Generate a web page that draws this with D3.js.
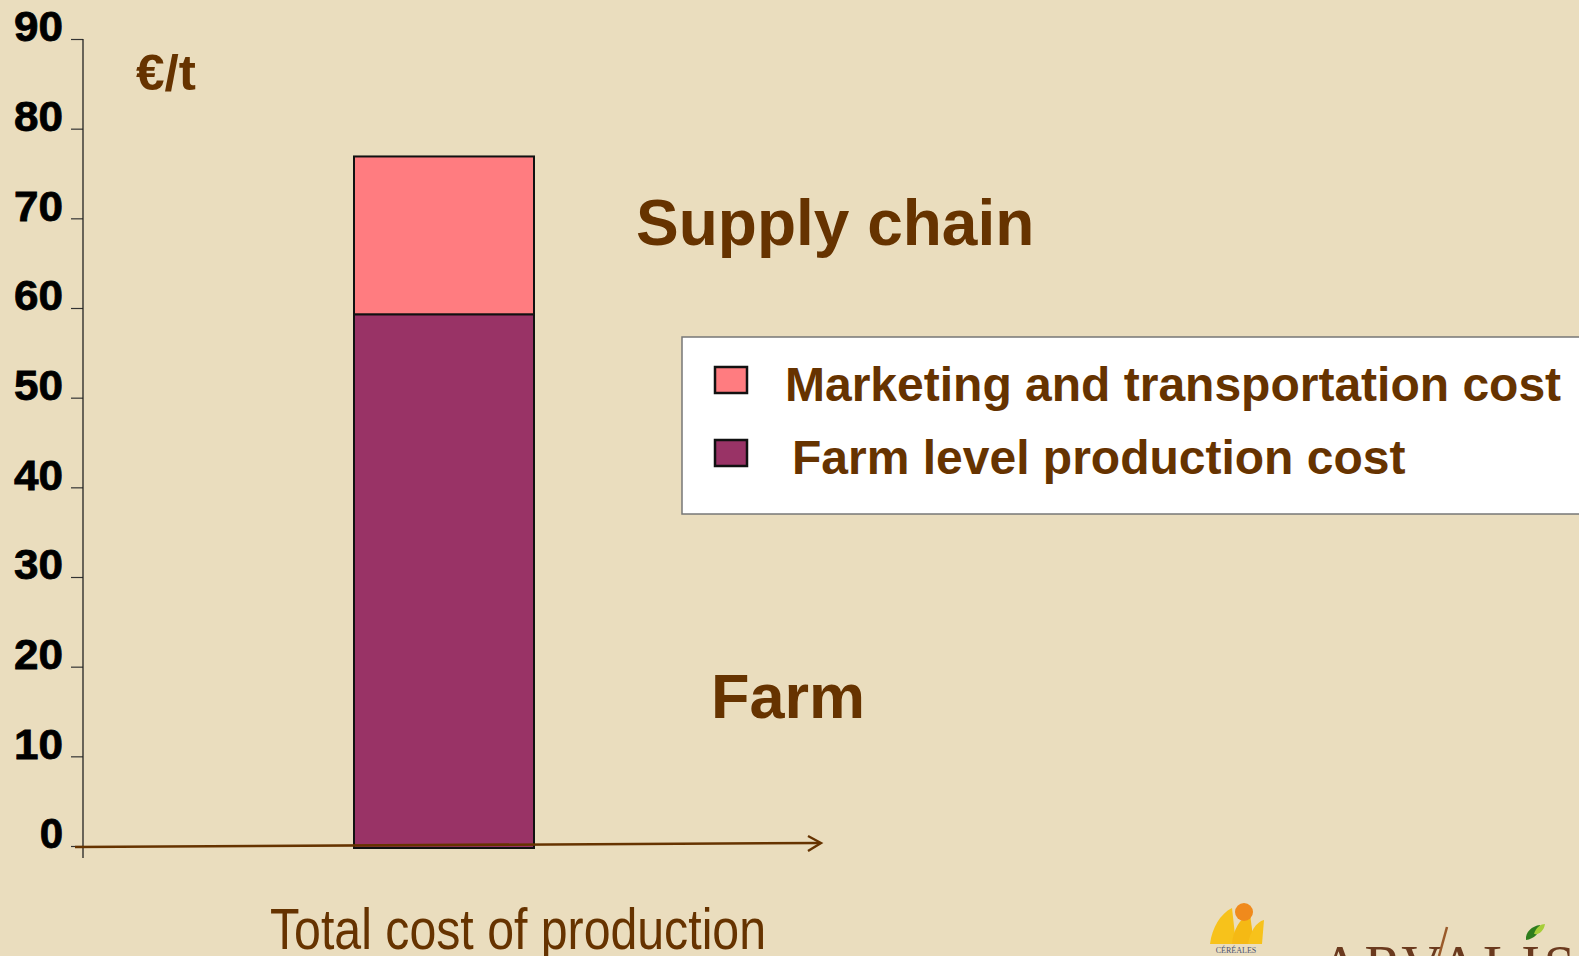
<!DOCTYPE html>
<html>
<head>
<meta charset="utf-8">
<script src="https://cdn.jsdelivr.net/npm/d3@7"></script>
<style>
  html, body { margin: 0; padding: 0; background: #EADDBE; overflow: hidden; }
  svg { display: block; }
</style>
</head>
<body>
<div id="chart"></div>
<script>
// data
var categories = ["Total cost of production"];
var farmCost = [59.3];
var marketingCost = [17.6];
var seriesNames = ["Marketing and transportation cost", "Farm level production cost"];
var seriesColors = ["#FF7C80", "#993366"];
var yTicks = [0, 10, 20, 30, 40, 50, 60, 70, 80, 90];
var unitLabel = "\u20ac/t";
var zoneLabels = ["Supply chain", "Farm"];

var W = 1579, H = 956;
var brown = "#663300";

var svg = d3.select("#chart").append("svg").attr("width", W).attr("height", H);
svg.append("rect").attr("width", W).attr("height", H).attr("fill", "#EADDBE");

var y = d3.scaleLinear().domain([0, 90]).range([846, 39]);
var x = d3.scaleBand().domain(categories).range([354, 534]).padding(0);

//stacked bars
var stack = categories.map(function(c, i) {
	return { cat: c, farm: farmCost[i], mkt: marketingCost[i] };
});

var bars = svg.append("g");
bars.selectAll("rect.farm").data(stack).enter().append("rect")
	.attr("class", "farm")
	.attr("x", function(d) { return x(d.cat); })
	.attr("width", x.bandwidth())
	.attr("y", function(d) { return y(d.farm); })
	.attr("height", function(d) { return y(0) - y(d.farm) + 2; })
	.attr("fill", seriesColors[1]).attr("stroke", "#111").attr("stroke-width", 2);
bars.selectAll("rect.mkt").data(stack).enter().append("rect")
	.attr("class", "mkt")
	.attr("x", function(d) { return x(d.cat); })
	.attr("width", x.bandwidth())
	.attr("y", function(d) { return y(d.farm + d.mkt); })
	.attr("height", function(d) { return y(d.farm) - y(d.farm + d.mkt); })
	.attr("fill", seriesColors[0]).attr("stroke", "#111").attr("stroke-width", 2);

//y axis
var yAxis = d3.axisLeft(y).tickValues(yTicks).tickSize(12).tickPadding(8).tickSizeOuter(0);
var gy = svg.append("g").attr("transform", "translate(83,0)").call(yAxis);
gy.select(".domain").remove();
gy.selectAll(".tick line").attr("stroke", "#333").attr("stroke-width", 1.2);
gy.selectAll(".tick text")
	.attr("dy", "0.04em")
	.attr("x", -20)
	.style("font-family", "'Liberation Sans', Arial, sans-serif")
	.style("font-weight", "bold")
	.style("font-size", "42px")
	.attr("fill", "#000")
	.attr("stroke", "#000").attr("stroke-width", 0.8)
	.attr("textLength", 49).attr("lengthAdjust", "spacingAndGlyphs");
gy.selectAll(".tick text").filter(function(d) { return d == 0; }).attr("textLength", null);
svg.append("line").attr("x1", 83).attr("x2", 83).attr("y1", y(90)).attr("y2", 858)
	.attr("stroke", "#222").attr("stroke-width", 1.3);

//x axis arrow
svg.append("line").attr("x1", 75).attr("y1", y(0) + 1).attr("x2", 820).attr("y2", y(0) - 3)
	.attr("stroke", brown).attr("stroke-width", 2.6);
svg.append("path").attr("d", "M808,836 L821,843 L808,851")
	.attr("fill", "none").attr("stroke", brown).attr("stroke-width", 2.4);

//labels
var bold = "'Liberation Sans', Arial, sans-serif";
svg.append("text").attr("x", 136).attr("y", 90).text(unitLabel)
	.attr("fill", brown).style("font-family", bold).style("font-weight", "bold").style("font-size", "50px")
	.attr("textLength", 60).attr("lengthAdjust", "spacingAndGlyphs");
svg.append("text").attr("x", 636).attr("y", 245).text(zoneLabels[0])
	.attr("fill", brown).style("font-family", bold).style("font-weight", "bold").style("font-size", "64px");
svg.append("text").attr("x", 711).attr("y", 718).text(zoneLabels[1])
	.attr("fill", brown).style("font-family", bold).style("font-weight", "bold").style("font-size", "63px");

svg.append("text").attr("x", 270).attr("y", 949).text(categories[0])
	.attr("fill", brown)
	.style("font-family", "'Liberation Sans Narrow', 'Arial Narrow', 'Liberation Sans', sans-serif")
	.style("font-size", "58px")
	.attr("textLength", 496).attr("lengthAdjust", "spacingAndGlyphs");

//legend
var lg = svg.append("g");
lg.append("rect").attr("x", 682).attr("y", 337).attr("width", 940).attr("height", 177)
	.attr("fill", "#fff").attr("stroke", "#777").attr("stroke-width", 1.5);
var items = lg.selectAll("g.item").data(seriesNames).enter().append("g").attr("class", "item")
	.attr("transform", function(d, i) { return "translate(0," + (i * 73) + ")"; });
items.append("rect").attr("x", 715).attr("y", 367).attr("width", 32).attr("height", 26)
	.attr("fill", function(d, i) { return seriesColors[i]; })
	.attr("stroke", "#111").attr("stroke-width", 2.5);
items.append("text")
	.attr("x", function(d, i) { return i == 0 ? 785 : 792; })
	.attr("y", 401)
	.text(function(d) { return d; })
	.attr("fill", brown).style("font-family", bold).style("font-weight", "bold").style("font-size", "48px");

//logos in the corner (partly cut off)
var logo = svg.append("g");
logo.append("path").attr("d", "M1210,944 C1212,928 1220,914 1232,908 L1236,944 Z").attr("fill", "#F7C21B");
logo.append("path").attr("d", "M1232,944 C1233,930 1240,918 1250,914 L1254,944 Z").attr("fill", "#F5B914");
logo.append("path").attr("d", "M1248,944 C1250,932 1256,922 1264,920 L1262,944 Z").attr("fill", "#F7C21B");
logo.append("circle").attr("cx", 1244).attr("cy", 912).attr("r", 9).attr("fill", "#F08A1C");
logo.append("text").attr("x", 1236).attr("y", 953).attr("text-anchor", "middle").text("C\u00c9R\u00c9ALES")
	.attr("fill", "#4A5470").style("font-family", "'Liberation Serif', serif").style("font-size", "8px");
logo.append("text").attr("x", 1320).attr("y", 985).text("ARVALIS")
	.attr("fill", "#6B3A1E").style("font-family", "'Liberation Serif', serif").style("font-size", "56px")
	.attr("textLength", 255).attr("lengthAdjust", "spacing");
logo.append("path").attr("d", "M1447,927 L1439,956").attr("stroke", "#9A5A2A").attr("stroke-width", 2.5);
logo.append("path").attr("d", "M1526,940 C1525,932 1532,926 1540,925 C1540,933 1534,939 1526,940 Z").attr("fill", "#2E7D1E");
logo.append("path").attr("d", "M1534,934 C1536,927 1541,924 1545,924 C1544,930 1540,935 1534,934 Z").attr("fill", "#A6CE39");
</script>
</body>
</html>
